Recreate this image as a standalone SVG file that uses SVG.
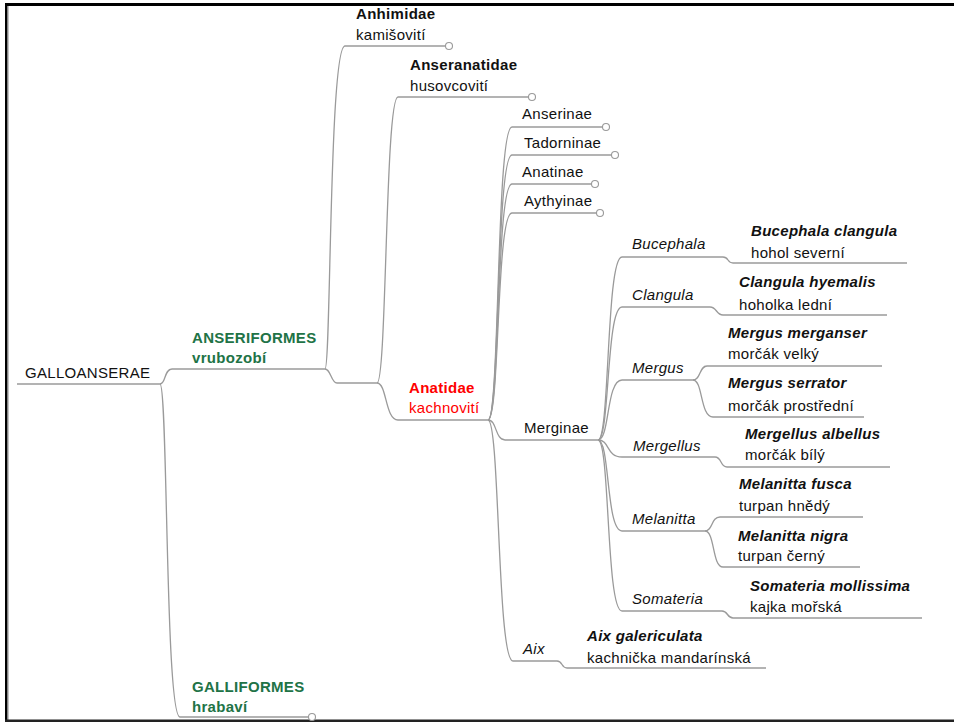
<svg xmlns="http://www.w3.org/2000/svg" width="954" height="722" viewBox="0 0 954 722">
<style>
text{font-family:"Liberation Sans",Arial,sans-serif;font-size:15px;letter-spacing:0.3px;fill:#111}
.b{font-weight:bold}
.i{font-style:italic}
.g{fill:#217346;font-weight:bold}
.r{fill:#ff0000}
.ul{stroke:#9a9a9a;stroke-width:1.3;fill:none}
.c{stroke:#9a9a9a;stroke-width:1.3;fill:none}
.knob{stroke:#9a9a9a;stroke-width:1.1;fill:#fff}
</style>
<rect x="0" y="0" width="954" height="722" fill="#fff"/>
<g id="frame">
<rect x="5" y="3" width="949" height="3" fill="#000"/>
<rect x="5" y="3" width="2.5" height="718" fill="#000"/>
<rect x="7.5" y="6" width="1" height="714" fill="#888"/>
<rect x="5" y="719.5" width="949" height="2.5" fill="#222"/>
</g>
<g id="connectors">
<path class="c" d="M160,384 C166,384 164,369 172,369"/>
<path class="c" d="M160,384 C168,384 165,717 180,717"/>
<path class="c" d="M325,369 C331,369 329,46 345,46"/>
<path class="c" d="M325,369 C331,369 331,383 337,383"/>
<path class="c" d="M377,383 C387,383 385,97 398,97"/>
<path class="c" d="M377,383 C387,383 385,420 398,420"/>
<path class="c" d="M488,420 C500,420 496,127 512,127"/>
<path class="c" d="M488,420 C500,420 496,155 512,155"/>
<path class="c" d="M488,420 C500,420 496,184 512,184"/>
<path class="c" d="M488,420 C500,420 496,213 512,213"/>
<path class="c" d="M488,420 C497,420 495,440 505,440"/>
<path class="c" d="M488,420 C500,420 497,661 513,661"/>
<path class="c" d="M598,440 C610,440 606,257 622,257"/>
<path class="c" d="M598,440 C610,440 606,307 622,307"/>
<path class="c" d="M598,440 C610,440 606,380 622,380"/>
<path class="c" d="M598,440 C610,440 606,457 622,457"/>
<path class="c" d="M598,440 C610,440 606,531 622,531"/>
<path class="c" d="M598,440 C610,440 606,611 622,611"/>
<path class="c" d="M723,257 C729,257 727,263 733,263"/>
<path class="c" d="M710,307 C717,307 716,315 723,315"/>
<path class="c" d="M693,380 C701,380 699,366 707,366"/>
<path class="c" d="M693,380 C703,380 700,417 713,417"/>
<path class="c" d="M715,457 C722,457 720,467 727,467"/>
<path class="c" d="M705,531 C713,531 711,517 720,517"/>
<path class="c" d="M705,531 C715,531 712,567 723,567"/>
<path class="c" d="M722,611 C728,611 727,618 733,618"/>
<path class="c" d="M557,661 C563,661 561,668 567,668"/>
</g>
<g id="n-galloanserae">
<line class="ul" x1="17" y1="384" x2="160" y2="384"/>
<text x="25" y="378">GALLOANSERAE</text>
</g>
<g id="n-anseriformes">
<line class="ul" x1="172" y1="369" x2="325" y2="369"/>
<text class="g" x="192" y="343">ANSERIFORMES</text>
<text class="g" x="192" y="363">vrubozobí</text>
</g>
<g id="n-galliformes">
<line class="ul" x1="180" y1="717" x2="308.5" y2="717"/>
<circle class="knob" cx="312" cy="717" r="3.5"/>
<text class="g" x="192" y="692">GALLIFORMES</text>
<text class="g" x="192" y="712">hrabaví</text>
</g>
<g id="n-anhimidae">
<line class="ul" x1="345" y1="46" x2="445.5" y2="46"/>
<circle class="knob" cx="449" cy="46" r="3.5"/>
<text class="b" x="356" y="19">Anhimidae</text>
<text x="356" y="40">kamišovití</text>
</g>
<g id="n-anatoidea">
<line class="ul" x1="337" y1="383" x2="377" y2="383"/>
</g>
<g id="n-anseranatidae">
<line class="ul" x1="398" y1="97" x2="528.5" y2="97"/>
<circle class="knob" cx="532" cy="97" r="3.5"/>
<text class="b" x="410" y="70">Anseranatidae</text>
<text x="410" y="91">husovcovití</text>
</g>
<g id="n-anatidae">
<line class="ul" x1="398" y1="420" x2="488" y2="420"/>
<text class="b r" x="409" y="393">Anatidae</text>
<text class="r" x="409" y="413">kachnovití</text>
</g>
<g id="n-anserinae">
<line class="ul" x1="512" y1="127" x2="602.5" y2="127"/>
<circle class="knob" cx="606" cy="127" r="3.5"/>
<text x="522" y="119">Anserinae</text>
</g>
<g id="n-tadorninae">
<line class="ul" x1="512" y1="155" x2="611.5" y2="155"/>
<circle class="knob" cx="615" cy="155" r="3.5"/>
<text x="524" y="148">Tadorninae</text>
</g>
<g id="n-anatinae">
<line class="ul" x1="512" y1="184" x2="591.5" y2="184"/>
<circle class="knob" cx="595" cy="184" r="3.5"/>
<text x="522" y="177">Anatinae</text>
</g>
<g id="n-aythyinae">
<line class="ul" x1="512" y1="213" x2="596.5" y2="213"/>
<circle class="knob" cx="600" cy="213" r="3.5"/>
<text x="524" y="206">Aythyinae</text>
</g>
<g id="n-merginae">
<line class="ul" x1="505" y1="440" x2="598" y2="440"/>
<text x="524" y="433">Merginae</text>
</g>
<g id="n-bucephala">
<line class="ul" x1="622" y1="257" x2="723" y2="257"/>
<text class="i" x="632" y="249">Bucephala</text>
</g>
<g id="n-bucephala-clangula">
<line class="ul" x1="733" y1="263" x2="907" y2="263"/>
<text class="b i" x="751" y="236">Bucephala clangula</text>
<text x="751" y="258">hohol severní</text>
</g>
<g id="n-clangula">
<line class="ul" x1="622" y1="307" x2="710" y2="307"/>
<text class="i" x="632" y="300">Clangula</text>
</g>
<g id="n-clangula-hyemalis">
<line class="ul" x1="723" y1="315" x2="887" y2="315"/>
<text class="b i" x="739" y="287">Clangula hyemalis</text>
<text x="739" y="310">hoholka lední</text>
</g>
<g id="n-mergus">
<line class="ul" x1="622" y1="380" x2="693" y2="380"/>
<text class="i" x="632" y="373">Mergus</text>
</g>
<g id="n-mergus-merganser">
<line class="ul" x1="707" y1="366" x2="882" y2="366"/>
<text class="b i" x="728" y="338">Mergus merganser</text>
<text x="728" y="359">morčák velký</text>
</g>
<g id="n-mergus-serrator">
<line class="ul" x1="713" y1="417" x2="864" y2="417"/>
<text class="b i" x="728" y="388">Mergus serrator</text>
<text x="728" y="411">morčák prostřední</text>
</g>
<g id="n-mergellus">
<line class="ul" x1="622" y1="457" x2="715" y2="457"/>
<text class="i" x="633" y="451">Mergellus</text>
</g>
<g id="n-mergellus-albellus">
<line class="ul" x1="727" y1="467" x2="890" y2="467"/>
<text class="b i" x="745" y="439">Mergellus albellus</text>
<text x="745" y="460">morčák bílý</text>
</g>
<g id="n-melanitta">
<line class="ul" x1="622" y1="531" x2="705" y2="531"/>
<text class="i" x="632" y="524">Melanitta</text>
</g>
<g id="n-melanitta-fusca">
<line class="ul" x1="720" y1="517" x2="863" y2="517"/>
<text class="b i" x="739" y="489">Melanitta fusca</text>
<text x="739" y="511">turpan hnědý</text>
</g>
<g id="n-melanitta-nigra">
<line class="ul" x1="723" y1="567" x2="860" y2="567"/>
<text class="b i" x="738" y="541">Melanitta nigra</text>
<text x="738" y="561">turpan černý</text>
</g>
<g id="n-somateria">
<line class="ul" x1="622" y1="611" x2="722" y2="611"/>
<text class="i" x="632" y="604">Somateria</text>
</g>
<g id="n-somateria-mollissima">
<line class="ul" x1="733" y1="618" x2="922" y2="618"/>
<text class="b i" x="750" y="591">Somateria mollissima</text>
<text x="750" y="612">kajka mořská</text>
</g>
<g id="n-aix">
<line class="ul" x1="513" y1="661" x2="557" y2="661"/>
<text class="i" x="523" y="654">Aix</text>
</g>
<g id="n-aix-galericulata">
<line class="ul" x1="567" y1="668" x2="766" y2="668"/>
<text class="b i" x="587" y="641">Aix galericulata</text>
<text x="587" y="663">kachnička mandarínská</text>
</g>
</svg>
